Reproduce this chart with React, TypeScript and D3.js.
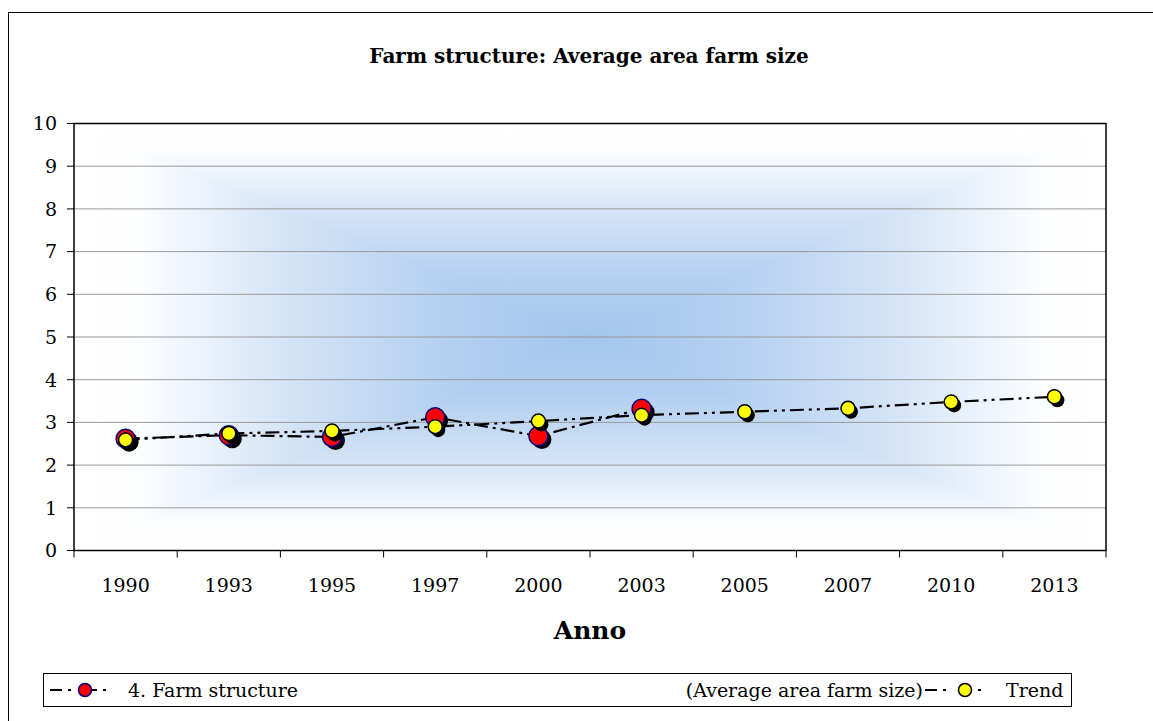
import React from 'react';
import * as d3 from 'd3';

const categories = ['1990', '1993', '1995', '1997', '2000', '2003', '2005', '2007', '2010', '2013'];
const farmStructure = [2.62, 2.7, 2.66, 3.12, 2.68, 3.32];
const trend = [2.59, 2.74, 2.8, 2.9, 3.03, 3.17, 3.25, 3.33, 3.48, 3.6];
const yTicks = [0, 1, 2, 3, 4, 5, 6, 7, 8, 9, 10];
const title = 'Farm structure: Average area farm size';
const xTitle = 'Anno';
const legendName1a = '4. Farm structure';
const legendName1b = '(Average area farm size)';
const legendName2 = 'Trend';

const W = 1153, H = 721;
const PL = 74, PR = 1106, PT = 123.5, PB = 550.5;
const FONT = '"DejaVu Serif", serif';

export default function App() {
  const x = d3.scaleBand<string>().domain(categories).range([PL, PR]);
  const y = d3.scaleLinear().domain([0, 10]).range([PB, PT]);
  const cx = (i: number) => (x(categories[i]) as number) + x.bandwidth() / 2;
  const line = d3.line<number>().x((_, i) => cx(i)).y(d => y(d));
  const mx = (PL + PR) / 2, my = (PT + PB) / 2;
  const stops = [
    { o: 0, c: '#ffffff' },
    { o: 0.12, c: '#fdfeff' },
    { o: 0.4, c: '#d6e5f7' },
    { o: 0.7, c: '#b6d1f1' },
    { o: 1, c: '#a3c5ed' },
  ];
  const boundaries = [...categories.map(c => x(c) as number), PR];

  return (
    <svg width={W} height={H} style={{ position: 'fixed', left: 0, top: 0, background: '#fff' }}>
      <defs>
        <linearGradient id="gL" gradientUnits="userSpaceOnUse" x1={PL} y1={0} x2={mx} y2={0} spreadMethod="reflect">
          {stops.map((s, i) => <stop key={i} offset={s.o} stopColor={s.c} />)}
        </linearGradient>
        <linearGradient id="gT" gradientUnits="userSpaceOnUse" x1={0} y1={PT} x2={0} y2={my} spreadMethod="reflect">
          {stops.map((s, i) => <stop key={i} offset={s.o} stopColor={s.c} />)}
        </linearGradient>
      </defs>
      <rect x={8.5} y={12.5} width={W + 10} height={H + 10} fill="#fff" stroke="#000" strokeWidth={1} />
      <text x={589} y={63} textAnchor="middle" fontFamily={FONT} fontWeight="bold" fontSize={20}>{title}</text>

      {/* plot background: rectangular gradient */}
      <rect x={PL} y={PT} width={PR - PL} height={PB - PT} fill="url(#gL)" />
      <path d={`M${PL},${PT}L${PR},${PT}L${mx},${my}Z`} fill="url(#gT)" />
      <path d={`M${PL},${PB}L${PR},${PB}L${mx},${my}Z`} fill="url(#gT)" />

      {yTicks.filter(t => t > 0 && t < 10).map(t => (
        <line key={t} x1={PL} x2={PR} y1={y(t)} y2={y(t)} stroke="#9a9a9a" strokeWidth={1} />
      ))}
      <rect x={PL} y={PT} width={PR - PL} height={PB - PT} fill="none" stroke="#000" strokeWidth={1.5} />

      {yTicks.map(t => (
        <g key={t}>
          <line x1={PL - 7} x2={PL} y1={y(t)} y2={y(t)} stroke="#000" strokeWidth={1} />
          <text x={57} y={y(t)} dy="0.36em" textAnchor="end" fontFamily={FONT} fontSize={19}>{t}</text>
        </g>
      ))}
      {boundaries.map((b, i) => (
        <line key={i} x1={b} x2={b} y1={PB} y2={PB + 7} stroke="#000" strokeWidth={1} />
      ))}
      {categories.map((c, i) => (
        <text key={c} x={cx(i)} y={592} textAnchor="middle" fontFamily={FONT} fontSize={19}>{c}</text>
      ))}
      <text x={590} y={639} textAnchor="middle" fontFamily={FONT} fontWeight="bold" fontSize={25}>{xTitle}</text>

      {/* series 1 */}
      <path d={line(farmStructure) as string} fill="none" stroke="#000" strokeWidth={2.2} strokeDasharray="14,5,3,5" />
      {farmStructure.map((v, i) => (
        <g key={i}>
          <circle cx={cx(i) + 3.5} cy={y(v) + 3.5} r={9.5} fill="#000" />
          <circle cx={cx(i)} cy={y(v)} r={9.5} fill="#ff0000" stroke="#000080" strokeWidth={1.5} />
        </g>
      ))}
      {/* trend */}
      <path d={line(trend) as string} fill="none" stroke="#000" strokeWidth={2.2} strokeDasharray="14,5,3,5,3,5" />
      {trend.map((v, i) => (
        <g key={i}>
          <circle cx={cx(i) + 3} cy={y(v) + 3.5} r={7} fill="#000" />
          <circle cx={cx(i)} cy={y(v)} r={7} fill="#ffff00" stroke="#000" strokeWidth={1.5} />
        </g>
      ))}

      {/* legend */}
      <rect x={43.5} y={673.5} width={1028} height={33} fill="#fff" stroke="#000" strokeWidth={1} />
      <line x1={50} x2={122} y1={690} y2={690} stroke="#000" strokeWidth={2} strokeDasharray="12,6,3,14,12,6,3,20" />
      <circle cx={85} cy={690} r={6.5} fill="#ff0000" stroke="#000080" strokeWidth={1.5} />
      <text x={128} y={690} dy="0.36em" fontFamily={FONT} fontSize={19}>{legendName1a}</text>
      <text x={923} y={690} dy="0.36em" textAnchor="end" fontFamily={FONT} fontSize={19}>{legendName1b}</text>
      <line x1={925} x2={1000} y1={690} y2={690} stroke="#000" strokeWidth={2} strokeDasharray="12,6,3,14,12,6,3,20" />
      <circle cx={965} cy={690} r={6.5} fill="#ffff00" stroke="#000" strokeWidth={1.5} />
      <text x={1006} y={690} dy="0.36em" fontFamily={FONT} fontSize={19}>{legendName2}</text>
    </svg>
  );
}
